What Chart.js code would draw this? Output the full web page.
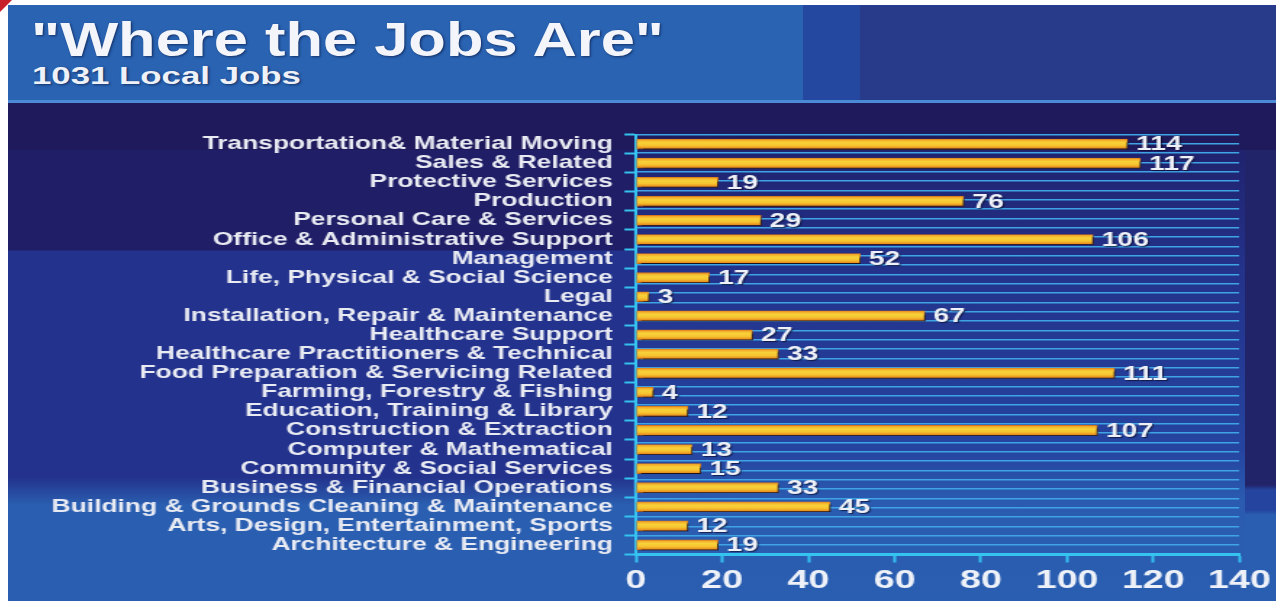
<!DOCTYPE html>
<html>
<head>
<meta charset="utf-8">
<script src="https://cdn.jsdelivr.net/npm/chart.js@4.4.1/dist/chart.umd.min.js"></script>
<style>
  html, body { margin:0; padding:0; background:#ffffff; width:1281px; height:604px; overflow:hidden; }
  .blk { position:absolute; }
  #wrap { position:absolute; left:8px; top:0; width:874px; height:604px; transform:scaleX(1.45); transform-origin:0 0; }
  #title { position:absolute; left:31px; top:16px; font-family:"Liberation Sans", Arial, sans-serif; font-weight:bold; font-size:48px; line-height:1; color:#f3f5fa; transform:scaleX(1.28); transform-origin:0 0; white-space:nowrap; text-shadow:1px 1px 2px rgba(10,20,60,0.6); }
  #sub { position:absolute; left:32px; top:64px; font-family:"Liberation Sans", Arial, sans-serif; font-weight:bold; font-size:24px; line-height:1; color:#eef2f8; transform:scaleX(1.45); transform-origin:0 0; white-space:nowrap; text-shadow:1px 1px 2px rgba(10,20,60,0.6); }
</style>
</head>
<body>
<!-- background panels -->
<div class="blk" style="left:0;top:0;width:0;height:0;border-top:12px solid #c8202a;border-right:12px solid transparent;"></div>
<div class="blk" style="left:8px;top:5px;width:795px;height:96px;background:#2963b2;"></div>
<div class="blk" style="left:803px;top:5px;width:57px;height:96px;background:#2447a0;"></div>
<div class="blk" style="left:860px;top:5px;width:416px;height:96px;background:#283b8b;"></div>
<div class="blk" style="left:8px;top:100px;width:1268px;height:3px;background:#4a8ad6;"></div>
<div class="blk" style="left:8px;top:103px;width:1268px;height:47px;background:#1f1a5b;"></div>
<div class="blk" style="left:8px;top:150px;width:625px;height:451px;background:linear-gradient(to bottom,#201e66 0px,#201e66 100px,#23328c 101px,#23328c 327px,#2a5eb0 355px,#2a5eb0 451px);"></div>
<div class="blk" style="left:633px;top:150px;width:612px;height:451px;background:linear-gradient(to bottom,#20236e 0px,#23328a 120px,#2544a0 300px,#2a5bb0 350px,#2a5eb0 451px);"></div>
<div class="blk" style="left:1245px;top:150px;width:31px;height:451px;background:linear-gradient(to bottom,#22246a 0px,#22246a 335px,#2444a0 340px,#2444a0 360px,#2a5eb0 365px,#2a5eb0 451px);"></div>

<div id="title">"Where the Jobs Are"</div>
<div id="sub">1031 Local Jobs</div>

<div id="wrap"><canvas id="c"></canvas></div>

<script>
const categories = [
  "Transportation& Material Moving",
  "Sales & Related",
  "Protective Services",
  "Production",
  "Personal Care & Services",
  "Office & Administrative Support",
  "Management",
  "Life, Physical & Social Science",
  "Legal",
  "Installation, Repair & Maintenance",
  "Healthcare Support",
  "Healthcare Practitioners & Technical",
  "Food Preparation & Servicing Related",
  "Farming, Forestry & Fishing",
  "Education, Training & Library",
  "Construction & Extraction",
  "Computer & Mathematical",
  "Community & Social Services",
  "Business & Financial Operations",
  "Building & Grounds Cleaning & Maintenance",
  "Arts, Design, Entertainment, Sports",
  "Architecture & Engineering"
];
const jobs = [114, 117, 19, 76, 29, 106, 52, 17, 3, 67, 27, 33, 111, 4, 12, 107, 13, 15, 33, 45, 12, 19];
const xTicks = [0, 20, 40, 60, 80, 100, 120, 140];

const FONT = '"Liberation Sans", Arial, sans-serif';
const CYAN = '#35c3f0';
const GRID = '#3fa3e4';

function barFill(context) {
  const chart = context.chart;
  const ys = chart.scales && chart.scales.y;
  if (!ys || ys.top === undefined) return '#f2bb28';
  const y = ys.getPixelForValue(context.dataIndex);
  const g = chart.ctx.createLinearGradient(0, y - 5, 0, y + 5);
  g.addColorStop(0, '#f09a22');
  g.addColorStop(0.35, '#f8d23a');
  g.addColorStop(0.65, '#f6c430');
  g.addColorStop(1, '#e47e18');
  return g;
}

const barShadow = {
  id: 'barShadow',
  beforeDatasetsDraw(chart) {
    const ctx = chart.ctx;
    ctx.save();
    ctx.shadowColor = 'rgba(8,8,30,0.9)';
    ctx.shadowOffsetX = 1.2;
    ctx.shadowOffsetY = 2;
    ctx.shadowBlur = 1;
  },
  afterDatasetsDraw(chart) {
    chart.ctx.restore();
  }
};

const valueLabels = {
  id: 'valueLabels',
  afterDatasetsDraw(chart) {
    const ctx = chart.ctx;
    const meta = chart.getDatasetMeta(0);
    const data = chart.data.datasets[0].data;
    ctx.save();
    ctx.font = 'bold 19.5px ' + FONT;
    ctx.fillStyle = '#eef1f7';
    ctx.textAlign = 'left';
    ctx.textBaseline = 'middle';
    ctx.shadowColor = 'rgba(10,10,40,0.7)';
    ctx.shadowOffsetX = 1;
    ctx.shadowOffsetY = 1;
    ctx.shadowBlur = 1;
    meta.data.forEach((el, i) => {
      ctx.fillText(String(data[i]), el.x + 6, el.y + 1);
    });
    ctx.restore();
  }
};

new Chart(document.getElementById('c'), {
  type: 'bar',
  data: {
    labels: categories,
    datasets: [{
      data: jobs,
      backgroundColor: barFill,
      borderColor: '#d8781a',
      borderWidth: 0.8,
      borderSkipped: false,
      barThickness: 10,
      xAxisID: 'x',
      yAxisID: 'y'
    }]
  },
  options: {
    indexAxis: 'y',
    responsive: true,
    maintainAspectRatio: false,
    animation: false,
    devicePixelRatio: 1,
    layout: { padding: { top: 134.5, right: 22.3, bottom: 0, left: 0 } },
    plugins: { legend: { display: false }, tooltip: { enabled: false }, title: { display: false } },
    scales: {
      x: {
        type: 'linear',
        position: 'bottom',
        min: 0, max: 140,
        afterBuildTicks(scale) { scale.ticks = xTicks.map(v => ({ value: v })); },
        afterFit(scale) { scale.height = 49.5; },
        ticks: { color: '#eef2f8', font: { family: FONT, size: 26, weight: 'bold' }, padding: 3, maxRotation: 0 },
        grid: { drawOnChartArea: false, drawTicks: true, tickLength: 8, tickColor: CYAN, tickWidth: 2 },
        border: { display: true, color: CYAN, width: 3 }
      },
      y: {
        type: 'category',
        position: 'left',
        offset: true,
        afterFit(scale) { scale.width = 433.1; },
        ticks: { color: '#e9ebf3', font: { family: FONT, size: 18.2, weight: 'bold' }, padding: 8, autoSkip: false },
        grid: { offset: true, drawOnChartArea: false, drawTicks: true, tickLength: 8, tickColor: CYAN, tickWidth: 2 },
        border: { display: true, color: CYAN, width: 2 }
      },
      yg: {
        type: 'linear',
        position: 'right',
        reverse: true,
        min: -0.5, max: 21.5,
        afterFit(scale) { scale.width = 0; },
        ticks: { display: false, stepSize: 0.5 },
        grid: { drawOnChartArea: true, drawTicks: false, color: GRID, lineWidth: 1.5 },
        border: { display: false }
      }
    }
  },
  plugins: [barShadow, valueLabels]
});
</script>
</body>
</html>
